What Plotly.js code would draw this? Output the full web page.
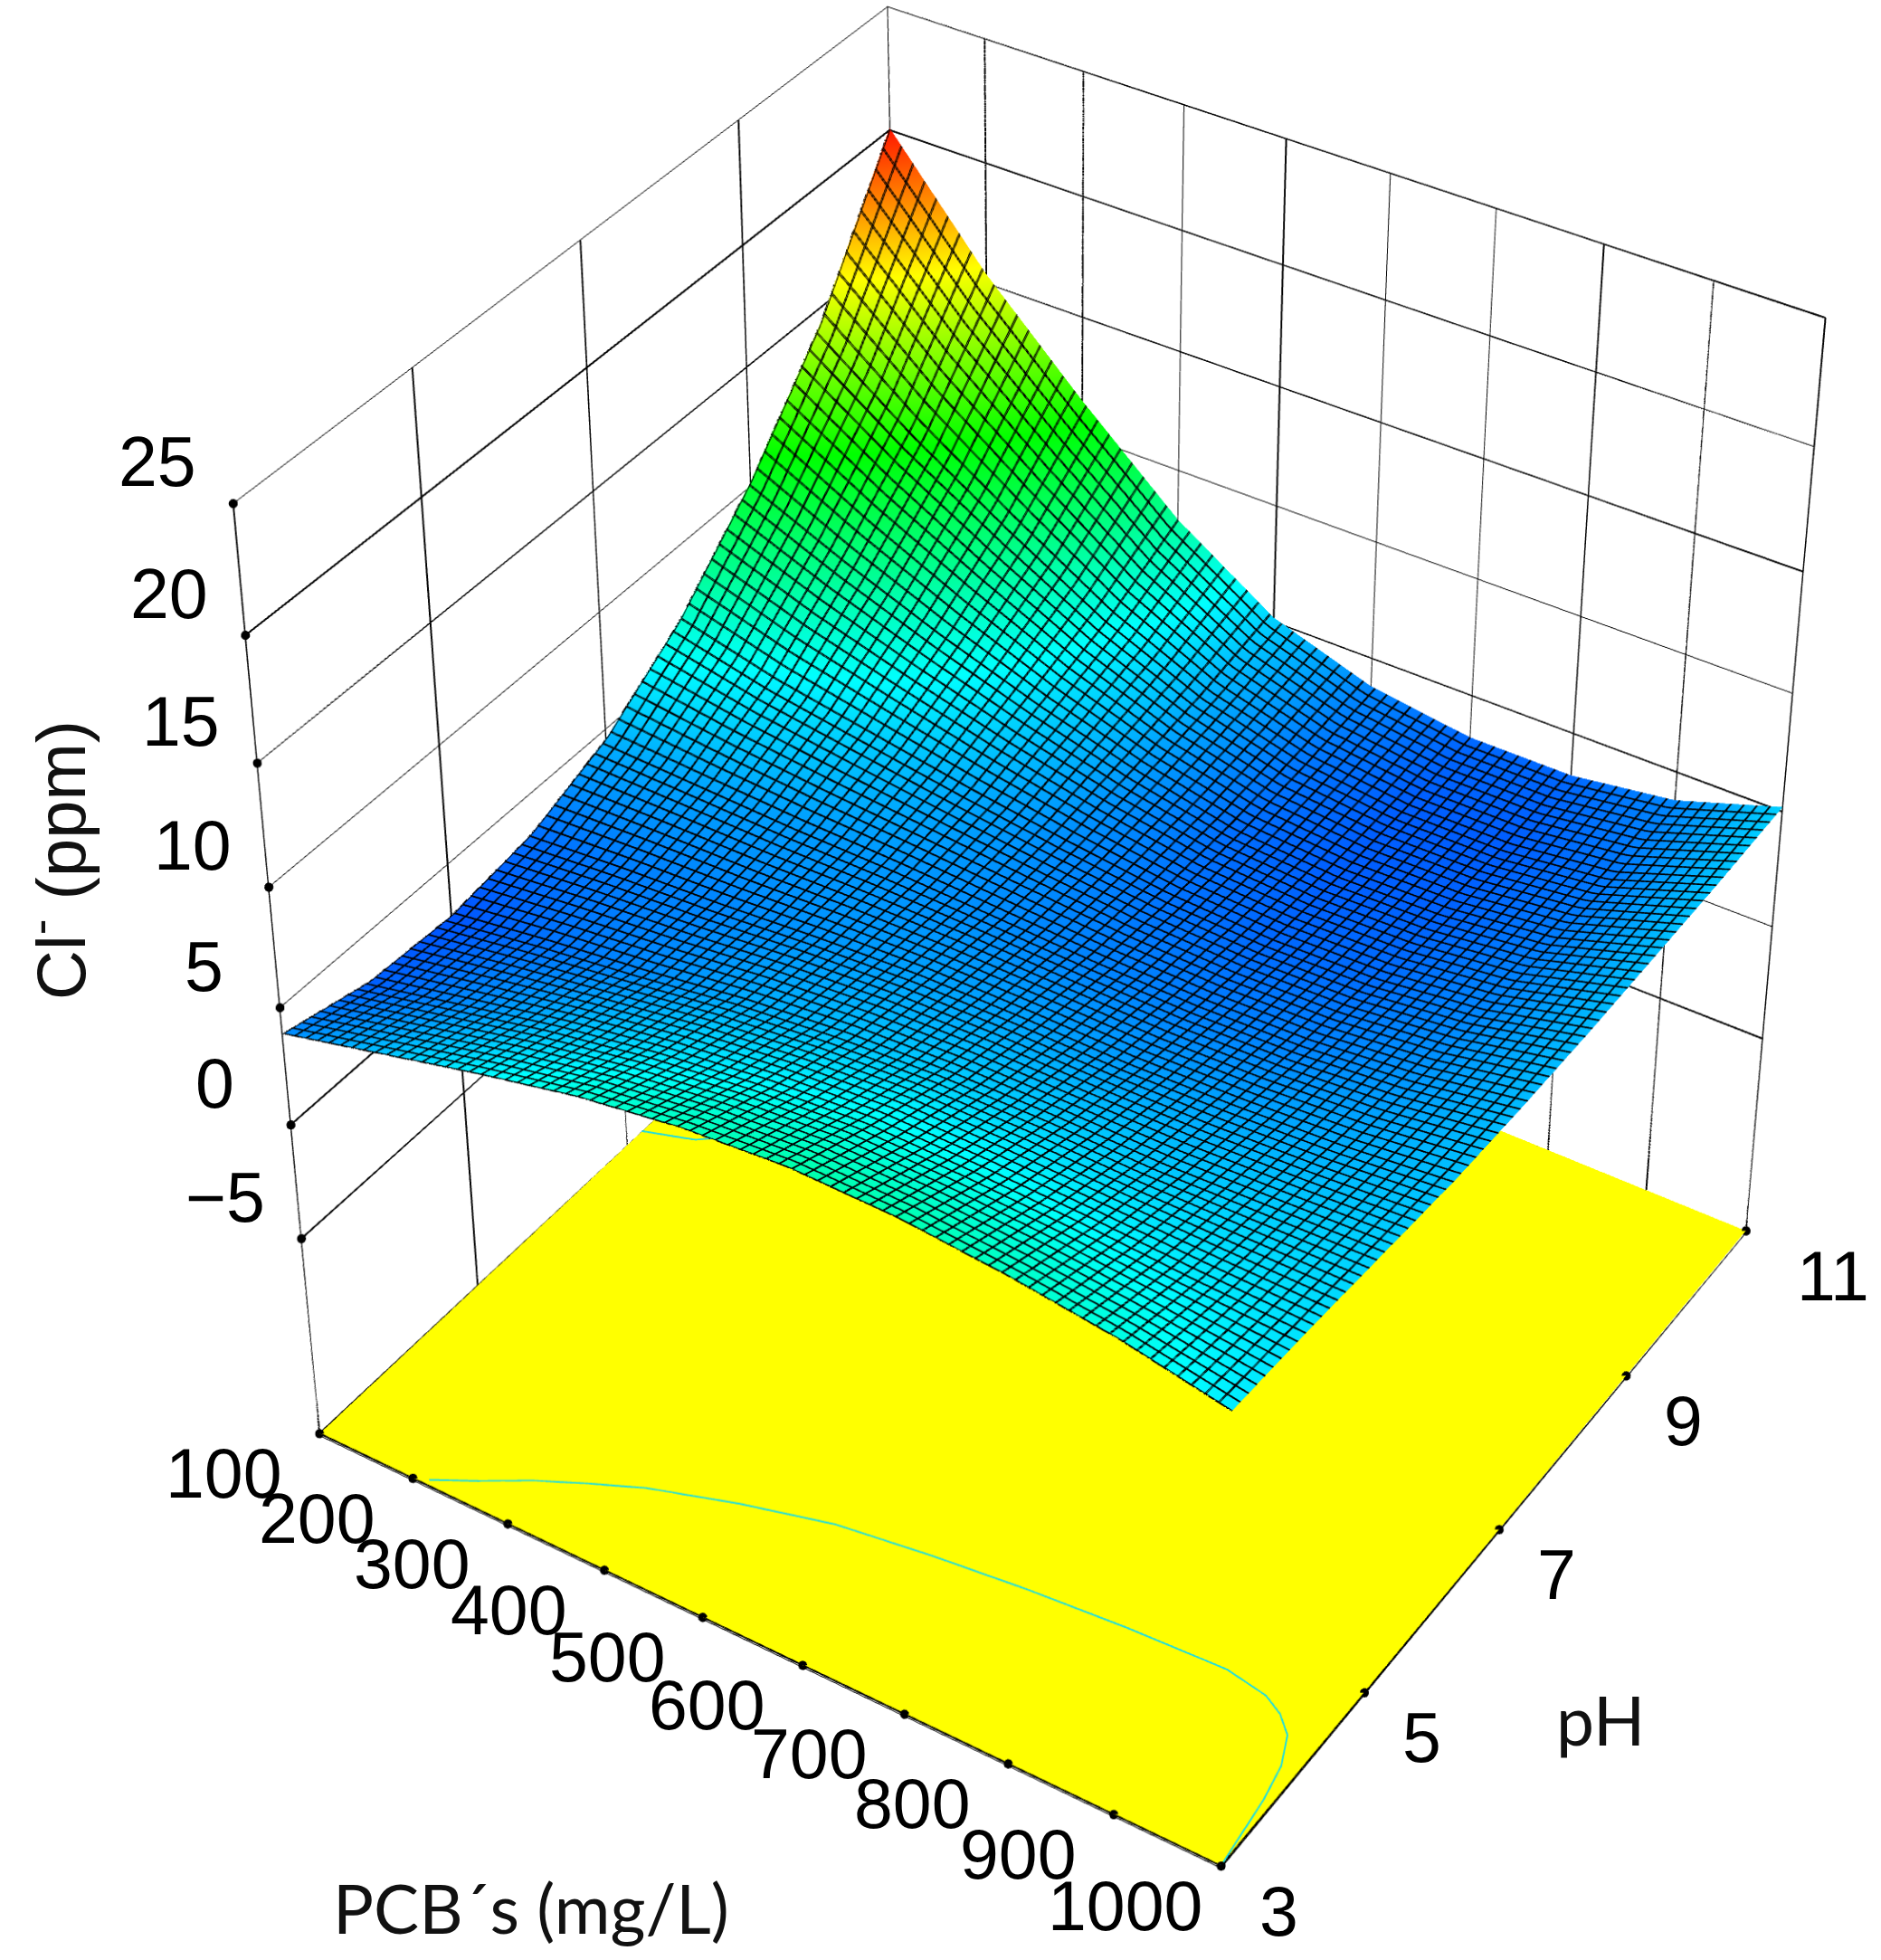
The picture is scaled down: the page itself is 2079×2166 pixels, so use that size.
<!DOCTYPE html>
<html><head><meta charset="utf-8"><script src="https://cdn.plot.ly/plotly-3.0.1.min.js"></script>
<style>html,body{margin:0;padding:0;background:#fff;overflow:hidden;width:2079px;height:2166px}#g{position:absolute;width:5510px;height:5740px}</style></head>
<body><div id="g"></div><script>
const pcb=[100,200,300,400,500,600,700,800,900,1000];
const ph=[3,4,5,6,7,8,9,10,11];
const zPH3=[3.9,4.9,5.9,6.8,7.4,7.7,7.6,7.2,6.6,5.7];
const zPH4=[3.0,3.9,4.8,5.5,6.0,6.3,6.2,6.0,5.7,5.5];
const zPH5=[2.8,3.4,3.9,4.5,4.9,5.1,5.1,5.0,5.1,5.2];
const zPH6=[3.3,3.6,3.8,4.1,4.3,4.3,4.2,4.3,4.5,4.9];
const zPH7=[4.6,4.4,4.2,4.1,3.9,3.7,3.6,3.7,4.1,4.8];
const zPH8=[6.9,5.9,5.2,4.5,3.9,3.4,3.2,3.3,3.8,4.8];
const zPH9=[10.2,8.4,6.8,5.4,4.2,3.3,3.0,3.1,3.6,4.9];
const zPH10=[14.4,11.4,8.8,6.4,4.6,3.5,3.0,3.0,3.5,5.0];
const zPH11=[20.1,15.4,11.5,7.9,5.2,3.8,3.2,3.2,3.8,5.2];
const zTable=[zPH3,zPH4,zPH5,zPH6,zPH7,zPH8,zPH9,zPH10,zPH11];
const floorZ=-13.9, topZ=25;
const contourFrontPCB=[213,250,287,330,372,450,531,620,706,800,893,935,955,972,985,992,1000];
const contourFrontPH=[3.05,3.25,3.47,3.68,3.87,4.12,4.33,4.45,4.54,4.61,4.65,4.58,4.48,4.33,4.05,3.7,3.0];
const contourBackPCB=[100,148,206,260];
const contourBackPH=[7.2,7.35,7.8,8.2];
const xTicks=[100,200,300,400,500,600,700,800,900,1000];
const yTicks=[3,5,7,9,11];
const zTicks=[-5,0,5,10,15,20,25];
const W=5510,H=5740,OX=1598,OY=1880;
const gd=document.getElementById('g');gd.style.left=(-OX)+'px';gd.style.top=(-OY)+'px';
const jet=[[0,'#0000ff'],[0.25,'#00ffff'],[0.5,'#00ff00'],[0.75,'#ffff00'],[1,'#ff0000']];
const flat={ambient:1,diffuse:0,specular:0,fresnel:0,roughness:1};
function mesh(dx,dy,hide){return {type:'surface',x:pcb,y:ph,z:zTable,colorscale:jet,cmin:1.2,cmax:20.5,showscale:false,lighting:flat,hidesurface:hide,hoverinfo:'skip',
  contours:{x:{show:true,start:100+dx,end:1000,size:12,color:'#000',width:1,highlight:false},
            y:{show:true,start:3+dy,end:11,size:8/75,color:'#000',width:1,highlight:false},
            z:{highlight:false}}};}
const lineT=(x,y,z,c,w)=>({type:'scatter3d',mode:'lines',x,y,z,line:{color:c,width:w},showlegend:false,hoverinfo:'skip'});
const dotT=(x,y,z)=>({type:'scatter3d',mode:'markers',x,y,z,marker:{color:'#000',size:3},showlegend:false,hoverinfo:'skip'});
const seg=(a,b)=>lineT([a[0],b[0]],[a[1],b[1]],[a[2],b[2]],'#000',2);
const gridT=[];
yTicks.forEach(v=>gridT.push(seg([100,v,floorZ],[100,v,topZ])));
xTicks.forEach(v=>gridT.push(seg([v,11,floorZ],[v,11,topZ])));
zTicks.forEach(v=>{gridT.push(seg([100,3,v],[100,11,v]));gridT.push(seg([100,11,v],[1000,11,v]));});
gridT.push(seg([100,3,floorZ],[100,11,floorZ]),seg([100,11,floorZ],[1000,11,floorZ]),seg([100,3,floorZ],[1000,3,floorZ]),seg([1000,3,floorZ],[1000,11,floorZ]));
const traces=[
 {type:'surface',x:[100,1000],y:[3,11],z:[[floorZ,floorZ],[floorZ,floorZ]],cmin:-20,cmax:0,colorscale:[[0,'#ffff00'],[1,'#ffff00']],showscale:false,lighting:flat,hoverinfo:'skip'},
 ...gridT,
 mesh(0,0,false),mesh(0.9,0.008,true),
 lineT(contourFrontPCB,contourFrontPH,contourFrontPCB.map(()=>floorZ+0.02),'#22dddd',2),
 lineT(contourBackPCB,contourBackPH,contourBackPCB.map(()=>floorZ+0.02),'#22dddd',2),
 dotT(xTicks,xTicks.map(()=>3),xTicks.map(()=>floorZ)),
 dotT(yTicks.map(()=>1000),yTicks,yTicks.map(()=>floorZ)),
 dotT(zTicks.map(()=>100),zTicks.map(()=>3),zTicks)
];
function ax(range,ticks){return {range:range,tickmode:'array',tickvals:ticks,showticklabels:false,
 showbackground:false,showgrid:true,gridcolor:'#000',gridwidth:1,zeroline:false,showline:false,ticks:'',showspikes:false,title:{text:''}};}
const tf={family:'Liberation Sans',size:77,color:'#000'};
const sceneAnn=[];
xTicks.forEach(v=>sceneAnn.push({x:v,y:3,z:floorZ,text:String(v),showarrow:false,xshift:-106,yshift:-44,font:tf}));
yTicks.forEach(v=>sceneAnn.push({x:1000,y:v,z:floorZ,text:String(v),showarrow:false,xanchor:'left',xshift:v>=10?54:40,yshift:-50,font:tf}));
zTicks.forEach(v=>sceneAnn.push({x:100,y:3,z:v,text:v<0?'\u2212'+(-v):String(v),showarrow:false,xshift:-84,yshift:46,font:tf}));
const px=v=>(v+OX)/W, py=v=>1-(v+OY)/H;
const ann=(x,y,text,font,extra)=>Object.assign({xref:'paper',yref:'paper',x:px(x),y:py(y),xanchor:'center',yanchor:'middle',text,showarrow:false,font},extra||{});
const layout={width:W,height:H,margin:{l:0,r:0,t:0,b:0},paper_bgcolor:'#fff',showlegend:false,
 scene:{domain:{x:[0,1],y:[0,1]},aspectmode:'manual',aspectratio:{x:1,y:0.987,z:1.01},
  camera:{eye:{x:2.39,y:-3.70,z:3.30},center:{x:0,y:0,z:0},up:{x:0,y:0,z:1},projection:{type:'perspective'}},
  xaxis:ax([100,1000],xTicks),yaxis:ax([3,11],yTicks),zaxis:ax([floorZ-0.1,topZ],zTicks),annotations:sceneAnn},
 annotations:[
  ann(62,951,'Cl<sup>-</sup> (ppm)',{family:'Liberation Sans',size:76,color:'#111'},{textangle:-90}),
  ann(587,2108,'PCB´s (mg/L)',{family:'Lato',size:75,color:'#111'}),
  ann(1769,1900,'pH',{family:'Lato',size:75,color:'#111'})
 ]};
Plotly.newPlot('g',traces,layout,{displayModeBar:false});
</script></body></html>
